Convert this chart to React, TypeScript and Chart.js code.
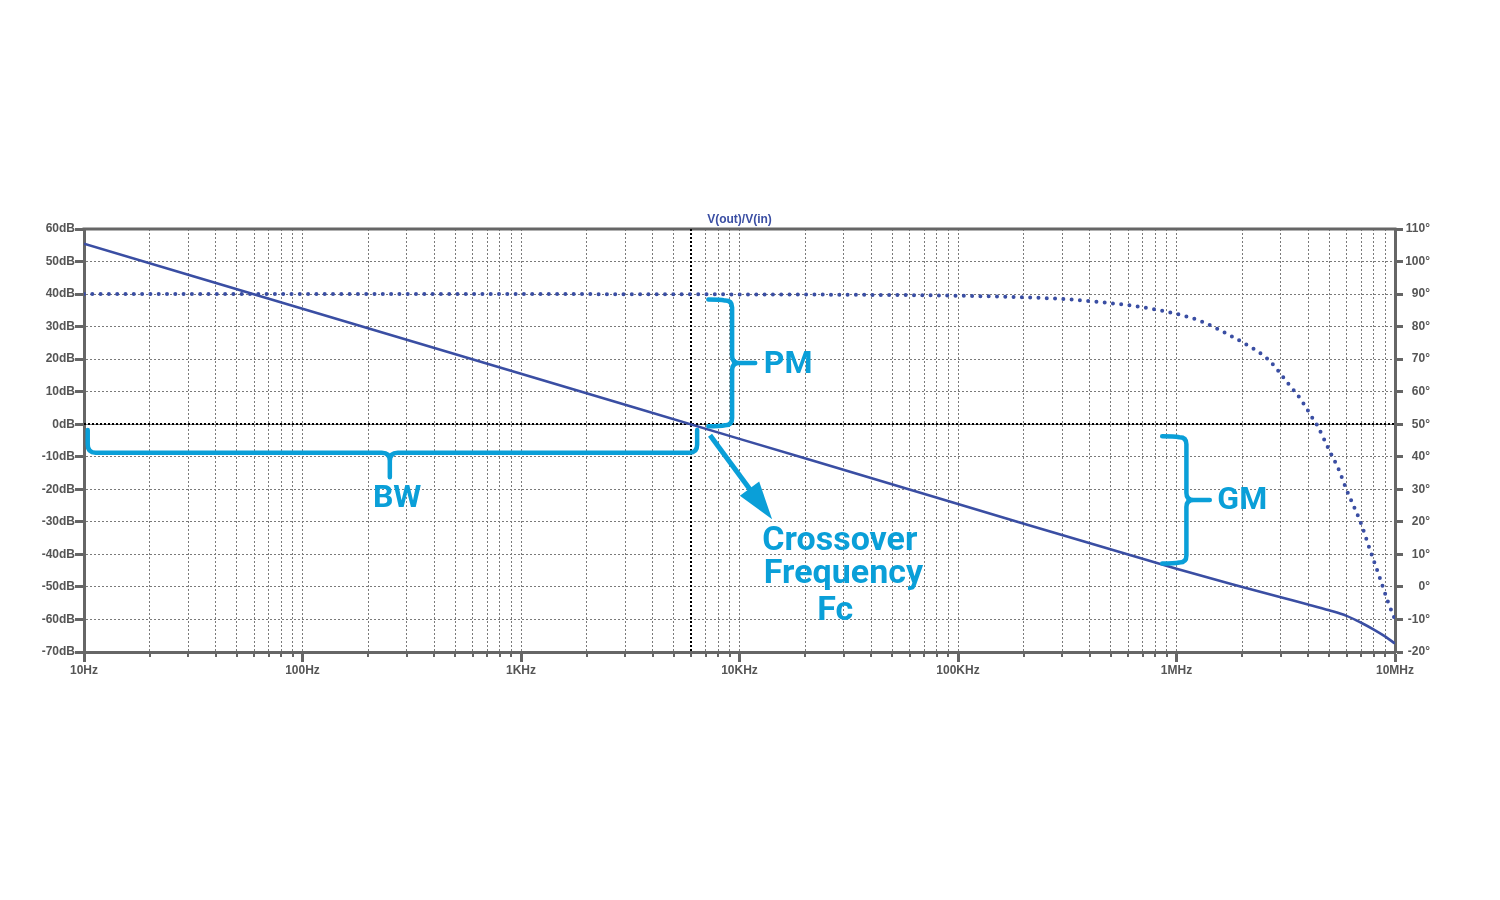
import { useEffect, useRef } from 'react';
import { Chart, registerables } from 'chart.js';

Chart.register(...registerables);

// ---------- data ----------
const MAG_FREQ = [10, 100, 1e3, 1e4, 1e5, 1e6, 2e6, 3e6, 4e6, 5e6, 6e6, 7e6, 8e6, 9e6, 1e7];
const MAG_DB = [55.5, 35.5, 15.5, -4.5, -24.5, -44.4, -50.0, -53.2, -55.4, -57.2, -58.9, -61.0, -63.1, -65.2, -67.4];

const PHASE_FREQ = [10, 1e3, 1e4, 3e4, 1e5, 2e5, 3e5, 4.5e5, 6.3e5, 9e5, 1.28e6, 1.8e6, 2.2e6, 2.6e6, 2.9e6, 3.2e6, 3.7e6, 4.2e6, 4.4e6, 5e6, 5.5e6, 6e6, 7e6, 7.7e6, 8.5e6, 9.3e6, 1e7];
const PHASE_DEG = [90, 90, 89.9, 89.8, 89.5, 89.0, 88.5, 87.5, 86.4, 84.6, 81.8, 76.9, 73.6, 70.2, 66.7, 63.0, 57.7, 51.8, 49.7, 42.0, 36.4, 29.9, 19.4, 11.2, 3.0, -4.7, -10.0];

const X_DECADES = [10, 100, 1e3, 1e4, 1e5, 1e6, 1e7];
const X_LABELS = ['10Hz', '100Hz', '1KHz', '10KHz', '100KHz', '1MHz', '10MHz'];
const DB_MIN = -70, DB_MAX = 60, DB_STEP = 10;
const DEG_MIN = -20, DEG_MAX = 110, DEG_STEP = 10;
const TITLE = 'V(out)/V(in)';

const CURSOR_FREQ = 6000;
const CURSOR_DB = 0;

// annotations (anchored in data space)
const PM_BRACE = { fLeft: 7.2e3, fSpine: 9.25e3, fTip: 11.8e3, dbTop: 38.0, dbBottom: -0.3 };
const GM_BRACE = { fLeft: 8.6e5, fSpine: 1.11e6, fTip: 1.42e6, dbTop: -4.0, dbBottom: -42.5 };
const BW_BRACE = { fLeft: 10.4, fRight: 6.4e3, fTip: 251, dbTop: -1.8, dbSpine: -8.8, dbTip: -16.3 };
const ARROW = { fFrom: 7.33e3, dbFrom: -3.4, fTo: 1.41e4, dbTo: -29.2 };
const NOTE_TEXTS = ['PM', 'GM', 'BW', 'Crossover', 'Frequency', 'Fc'];
const NOTE_FREQ = [16.7e3, 2.0e6, 271, 28.8e3, 29.9e3, 27.4e3];
const NOTE_DB = [15.7, -26.2, -25.5, -38.5, -48.9, -60.3];
const NOTE_SIZE = [32, 32, 32, 34, 34, 34];

const X_TICKS: number[] = [];
X_DECADES.forEach((d, i) => {
  if (i === X_DECADES.length - 1) { X_TICKS.push(d); return; }
  for (let m = 1; m <= 9; m++) X_TICKS.push(d * m);
});

const isDecade = (v: number) => X_DECADES.some((d) => Math.abs(d - v) < d * 1e-6);

const LINE_BLUE = '#3a4ea3';
const CYAN = '#0a9fd8';
const AXIS_GRAY = '#666666';
const LABEL_FONT = { family: '"Liberation Sans", Arial, sans-serif', size: 12, weight: 'bold' as const };

function vBrace(ctx: CanvasRenderingContext2D, xL: number, xS: number, xT: number, y1: number, y2: number) {
  const r = 7;
  const ym = (y1 + y2) / 2;
  ctx.beginPath();
  ctx.moveTo(xL, y1 - 1);
  ctx.quadraticCurveTo((xL + xS) / 2, y1 - 1, xS - r, y1);
  ctx.quadraticCurveTo(xS, y1, xS, y1 + r);
  ctx.lineTo(xS, ym - r);
  ctx.quadraticCurveTo(xS, ym, xS + r, ym);
  ctx.lineTo(xT, ym);
  ctx.moveTo(xS + r, ym);
  ctx.quadraticCurveTo(xS, ym, xS, ym + r);
  ctx.lineTo(xS, y2 - r);
  ctx.quadraticCurveTo(xS, y2, xS - r, y2);
  ctx.quadraticCurveTo((xL + xS) / 2, y2 + 1, xL, y2 + 1);
  ctx.stroke();
}

function hBrace(ctx: CanvasRenderingContext2D, xL: number, xR: number, xm: number, yTop: number, yS: number, yT: number) {
  const r = 8;
  ctx.beginPath();
  ctx.moveTo(xL, yTop);
  ctx.lineTo(xL, yS - r);
  ctx.quadraticCurveTo(xL, yS, xL + r, yS);
  ctx.lineTo(xm - r, yS);
  ctx.quadraticCurveTo(xm, yS, xm, yS + r);
  ctx.lineTo(xm, yT);
  ctx.moveTo(xm, yS + r);
  ctx.quadraticCurveTo(xm, yS, xm + r, yS);
  ctx.lineTo(xR - r, yS);
  ctx.quadraticCurveTo(xR, yS, xR, yS - r);
  ctx.lineTo(xR, yTop);
  ctx.stroke();
}

const overlayPlugin = {
  id: 'overlay',
  beforeDatasetsDraw(chart: any) {
    const { ctx, chartArea: a, scales } = chart;
    const xs = scales.x, ys = scales.y;
    ctx.save();
    // minor tick marks
    ctx.strokeStyle = AXIS_GRAY;
    ctx.lineWidth = 2;
    xs.ticks.forEach((t: any) => {
      if (isDecade(t.value)) return;
      const px = Math.round(xs.getPixelForValue(t.value));
      ctx.beginPath();
      ctx.moveTo(px, a.bottom);
      ctx.lineTo(px, a.bottom + 5);
      ctx.stroke();
    });
    // top frame
    ctx.lineWidth = 3;
    ctx.beginPath();
    ctx.moveTo(a.left - 1.5, a.top);
    ctx.lineTo(a.right + 1.5, a.top);
    ctx.stroke();
    // cursor crosshair
    const cx = Math.round(xs.getPixelForValue(CURSOR_FREQ));
    const cy = Math.round(ys.getPixelForValue(CURSOR_DB));
    ctx.setLineDash([2, 2]);
    ctx.strokeStyle = '#000';
    ctx.lineWidth = 2;
    ctx.beginPath();
    ctx.moveTo(a.left, cy);
    ctx.lineTo(a.right, cy);
    ctx.moveTo(cx, a.top);
    ctx.lineTo(cx, a.bottom);
    ctx.stroke();
    ctx.restore();
  },
  afterDatasetsDraw(chart: any) {
    const { ctx, chartArea: a, scales } = chart;
    const X = (f: number) => scales.x.getPixelForValue(f);
    const Y = (d: number) => scales.y.getPixelForValue(d);
    ctx.save();
    // title
    ctx.font = 'bold 12px "Liberation Sans", Arial, sans-serif';
    ctx.fillStyle = LINE_BLUE;
    ctx.textAlign = 'center';
    ctx.textBaseline = 'alphabetic';
    ctx.fillText(TITLE, (a.left + a.right) / 2, a.top - 6);

    // braces
    ctx.strokeStyle = CYAN;
    ctx.fillStyle = CYAN;
    ctx.lineWidth = 4.5;
    ctx.lineCap = 'round';
    ctx.lineJoin = 'round';
    vBrace(ctx, X(PM_BRACE.fLeft), X(PM_BRACE.fSpine), X(PM_BRACE.fTip), Y(PM_BRACE.dbTop), Y(PM_BRACE.dbBottom));
    vBrace(ctx, X(GM_BRACE.fLeft), X(GM_BRACE.fSpine), X(GM_BRACE.fTip), Y(GM_BRACE.dbTop), Y(GM_BRACE.dbBottom));
    hBrace(ctx, X(BW_BRACE.fLeft), X(BW_BRACE.fRight), X(BW_BRACE.fTip), Y(BW_BRACE.dbTop), Y(BW_BRACE.dbSpine), Y(BW_BRACE.dbTip));

    // arrow
    const x1 = X(ARROW.fFrom), y1 = Y(ARROW.dbFrom), x2 = X(ARROW.fTo), y2 = Y(ARROW.dbTo);
    const dx = x2 - x1, dy = y2 - y1, len = Math.hypot(dx, dy);
    const ux = dx / len, uy = dy / len;
    const headLen = 38, headHalf = 12;
    const bx = x2 - ux * headLen, by = y2 - uy * headLen;
    ctx.lineWidth = 5;
    ctx.lineCap = 'butt';
    ctx.beginPath();
    ctx.moveTo(x1, y1);
    ctx.lineTo(bx + ux * 4, by + uy * 4);
    ctx.stroke();
    ctx.beginPath();
    ctx.moveTo(x2, y2);
    ctx.lineTo(bx - uy * headHalf, by + ux * headHalf);
    ctx.lineTo(bx + uy * headHalf, by - ux * headHalf);
    ctx.closePath();
    ctx.fill();

    // notes
    ctx.textAlign = 'center';
    ctx.textBaseline = 'alphabetic';
    NOTE_TEXTS.forEach((t, i) => {
      ctx.font = `bold ${NOTE_SIZE[i]}px Roboto, "Liberation Sans", sans-serif`;
      ctx.fillText(t, X(NOTE_FREQ[i]), Y(NOTE_DB[i]));
    });
    ctx.restore();
  },
};

export default function App() {
  const canvasRef = useRef<HTMLCanvasElement | null>(null);

  useEffect(() => {
    const canvas = canvasRef.current;
    if (!canvas) return;
    const chart = new Chart(canvas, {
      type: 'line',
      data: {
        datasets: [
          {
            label: 'Magnitude',
            data: MAG_FREQ.map((f, i) => ({ x: f, y: MAG_DB[i] })),
            yAxisID: 'y',
            borderColor: LINE_BLUE,
            borderWidth: 2.6,
            pointRadius: 0,
            cubicInterpolationMode: 'monotone',
          },
          {
            label: 'Phase',
            data: PHASE_FREQ.map((f, i) => ({ x: f, y: PHASE_DEG[i] })),
            yAxisID: 'y2',
            borderColor: LINE_BLUE,
            borderWidth: 4,
            borderDash: [0, 8.3],
            borderCapStyle: 'round',
            pointRadius: 0,
            cubicInterpolationMode: 'monotone',
          },
        ],
      },
      options: {
        animation: false,
        responsive: false,
        devicePixelRatio: 1,
        layout: { padding: { top: 229, left: 0, right: 70, bottom: 0 } },
        plugins: { legend: { display: false }, tooltip: { enabled: false }, title: { display: false } },
        scales: {
          x: {
            type: 'logarithmic',
            min: 10,
            max: 1e7,
            afterFit: (s: any) => { s.height = 248; },
            afterBuildTicks: (s: any) => { s.ticks = X_TICKS.map((v) => ({ value: v })); },
            ticks: {
              autoSkip: false,
              maxRotation: 0,
              minRotation: 0,
              padding: 1,
              color: '#555555',
              font: LABEL_FONT,
              callback: (v: any) => {
                const i = X_DECADES.findIndex((d) => Math.abs(d - Number(v)) < d * 1e-6);
                return i >= 0 ? X_LABELS[i] : '';
              },
            },
            grid: {
              color: '#7a7a7a',
              lineWidth: 1,
              tickLength: 10,
              tickWidth: 3,
              tickColor: (c: any) => (c.tick && isDecade(c.tick.value) ? AXIS_GRAY : 'rgba(0,0,0,0)'),
            },
            border: { display: true, color: AXIS_GRAY, width: 3, dash: [2, 2] },
          },
          y: {
            type: 'linear',
            position: 'left',
            min: DB_MIN,
            max: DB_MAX,
            afterFit: (s: any) => { s.width = 84; },
            ticks: {
              stepSize: DB_STEP,
              padding: 0,
              color: '#555555',
              font: LABEL_FONT,
              callback: (v: any) => `${v}dB`,
            },
            grid: { color: '#7a7a7a', lineWidth: 1, tickLength: 9, tickWidth: 3, tickColor: AXIS_GRAY },
            border: { display: true, color: AXIS_GRAY, width: 3, dash: [2, 2] },
          },
          y2: {
            type: 'linear',
            position: 'right',
            min: DEG_MIN,
            max: DEG_MAX,
            afterFit: (s: any) => { s.width = 35; },
            ticks: {
              stepSize: DEG_STEP,
              padding: 0,
              crossAlign: 'far',
              color: '#555555',
              font: LABEL_FONT,
              callback: (v: any) => `${v}°`,
            },
            grid: { drawOnChartArea: false, tickLength: 8, tickWidth: 3, tickColor: AXIS_GRAY },
            border: { display: true, color: AXIS_GRAY, width: 3 },
          },
        },
      },
      plugins: [overlayPlugin],
    } as any);
    return () => chart.destroy();
  }, []);

  return (
    <div style={{ position: 'absolute', left: 0, top: 0, width: 1500, height: 900, background: '#fff' }}>
      <canvas ref={canvasRef} width={1500} height={900} style={{ display: 'block' }} />
    </div>
  );
}
